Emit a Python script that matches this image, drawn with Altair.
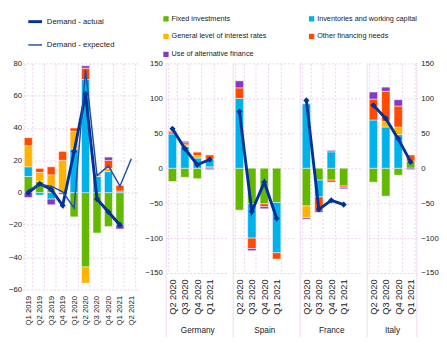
import altair as alt
import pandas as pd

FONT = "Liberation Sans Narrow, Liberation Sans, Arial, sans-serif"
GRID = "#ecd0ec"
SEP = "#efd8ef"
FS = 8

factors = ["Fixed investments", "Inventories and working capital",
           "General level of interest rates", "Other financing needs",
           "Use of alternative finance"]
factor_colors = ["#65B800", "#00B1EA", "#FFB400", "#FF4B00", "#8139C6"]
series = ["Demand - actual", "Demand - expected"]
series_colors = ["#003299", "#1f4ea8"]

# Left panel (euro area)
quarters_ea = ["Q1 2019", "Q2 2019", "Q3 2019", "Q4 2019", "Q1 2020",
               "Q2 2020", "Q3 2020", "Q4 2020", "Q1 2021", "Q2 2021"]
ea_fixed = [10, 7, 2, 0, -15, -46, -25, -21, -20, 0]
ea_inventories = [6, -1.5, -4, 0, 27, 70, 10, 13, 1, 0]
ea_interest = [13, 5.5, 9, 20, 11, -10, 1.5, 2, 0, 0]
ea_other = [5, 2.5, 5, 5.5, 2, 7, 0, 5, 3.5, 0]
ea_alternative = [-3, 0, -3.5, -1, 0, 1.5, 0, 2, -2.5, 0]
ea_actual = [0, 5.5, 2, -8, 25.5, 61, -4, -12, -20, None]
ea_expected = [1.5, 5, 4, 0.5, -9.5, 76, 10.5, 16.5, 4, 21]

# Right panel: four quarters per country, in the order of `countries`
countries = ["Germany", "Spain", "France", "Italy"]
quarters_c = ["Q2 2020", "Q3 2020", "Q4 2020", "Q1 2021"]
c_fixed = [-19, -13, -15, 2, -60, -51, -51, -49, -54, -17, -17, -25.5, -20, -40, -10, 10]
c_inventories = [49, 31, 14.5, 11, 100, -49, 0, -72, 92, -24, 23.5, 0, 69, 59, 48, 0]
c_interest = [0, 2.5, 3.5, 0, 0, 0, 0, 0, -17, 0, 0, 0, 0, 8, 11, 0]
c_other = [3, 3, 5, 6, 15, -15, -4, -9, 0, -19, -3, -2, 30, 43, 30, 9]
c_alternative = [1, 2, 0, -2, 10, -3, -3, 0, -2, -3, 2, -2, 10, 6, 9, -2]
c_actual = [56.5, 28, 5, 12.5, 81, -62, -20, -72, 97, -59, -46, -52, 90, 71, 42, 9]

# ---- build tables
ea_lists = [ea_fixed, ea_inventories, ea_interest, ea_other, ea_alternative]
rows = []
for k, (f, vals) in enumerate(zip(factors, ea_lists)):
    for q, v in zip(quarters_ea, vals):
        if v:
            rows.append({"quarter": q, "factor": f, "value": v, "order": k})
ea_bars = pd.DataFrame(rows)
rows = []
for s, vals in zip(series, [ea_actual, ea_expected]):
    for q, v in zip(quarters_ea, vals):
        if v is not None:
            rows.append({"quarter": q, "series": s, "value": v})
ea_lines = pd.DataFrame(rows)

c_lists = [c_fixed, c_inventories, c_interest, c_other, c_alternative]
c_bars, c_lines = {}, {}
for i, c in enumerate(countries):
    rows = []
    for k, (f, vals) in enumerate(zip(factors, c_lists)):
        for j, q in enumerate(quarters_c):
            v = vals[4 * i + j]
            if v:
                rows.append({"quarter": q, "factor": f, "value": v, "order": k})
    c_bars[c] = pd.DataFrame(rows)
    c_lines[c] = pd.DataFrame({"quarter": quarters_c,
                               "series": series[0],
                               "value": c_actual[4 * i:4 * i + 4]})

color_enc = alt.Color(
    "factor:N",
    scale=alt.Scale(domain=factors, range=factor_colors),
    legend=alt.Legend(title=None, orient="none", legendX=144, legendY=-50,
                      columns=2, direction="horizontal", symbolType="square",
                      symbolSize=30, symbolStrokeWidth=0, labelFontSize=7.5,
                      labelOffset=2, rowPadding=9.5, columnPadding=42, padding=0,
                      labelColor="#222222"),
)
stroke_scale = alt.Scale(domain=series, range=series_colors)
width_scale = alt.Scale(domain=series, range=[3, 1.5])
line_legend = alt.Legend(title=None, orient="none", legendX=4, legendY=-52,
                         symbolType="stroke", symbolSize=200, labelFontSize=FS,
                         labelOffset=3, rowPadding=10, padding=0,
                         labelColor="#222222")


def y_axis(**kw):
    base = dict(title=None, ticks=False, domain=False, gridColor=GRID,
                gridDash=[2, 2], labelFontSize=FS, labelColor="#222222")
    base.update(kw)
    return alt.Axis(**base)


def x_axis(title=None, fs=FS):
    kw = dict(labelAngle=270, labelPadding=6, ticks=False, domain=False,
              grid=True, tickBand="extent", gridColor=GRID, gridDash=[2, 2],
              labelFontSize=fs, labelColor="#222222", titleFontSize=8.5,
              titleFontWeight="normal", titleColor="#222222", titlePadding=12)
    kw["title"] = title if title else None
    return alt.Axis(**kw)


# ---- left chart
ysc_ea = alt.Scale(domain=[-60, 80], nice=False)
ya_ea = y_axis(values=list(range(-60, 81, 20)), labelPadding=1)
xs_ea = alt.X("quarter:N", scale=alt.Scale(domain=quarters_ea, paddingInner=0.3,
                                          paddingOuter=0.15), axis=x_axis())
ys_ea = alt.Y("value:Q", scale=ysc_ea, axis=ya_ea)

left_bars = alt.Chart(ea_bars).mark_bar(stroke="white", strokeWidth=0.5).encode(
    x=xs_ea, y=alt.Y("value:Q", stack="zero", scale=ysc_ea, axis=ya_ea),
    color=color_enc, order=alt.Order("order:Q"))
left_lines = alt.Chart(ea_lines).mark_line().encode(
    x=xs_ea, y=ys_ea,
    stroke=alt.Stroke("series:N", scale=stroke_scale, legend=line_legend),
    strokeWidth=alt.StrokeWidth("series:N", scale=width_scale, legend=line_legend))
left_pts = alt.Chart(ea_lines).transform_filter(
    alt.datum.series == series[0]).mark_point(
    shape="diamond", filled=True, size=40, color="#003299", opacity=1).encode(x=xs_ea, y=ys_ea)
left = alt.layer(left_bars, left_lines, left_pts).properties(width=118, height=233)


# ---- country charts
def country_chart(c, idx):
    last = idx == len(countries) - 1
    w = 51.2 if last else 64
    if last:
        xsc = alt.Scale(domain=quarters_c, paddingInner=0.33, paddingOuter=0.165, align=0.5)
    else:
        xsc = alt.Scale(domain=quarters_c, paddingInner=0.33, paddingOuter=0.665, align=0.124)
    if idx == 0:
        ya = y_axis(values=list(range(-150, 151, 50)), labelPadding=4)
    elif last:
        ya = y_axis(values=list(range(-150, 151, 50)), labelPadding=4, orient="right")
    else:
        ya = y_axis(values=list(range(-150, 151, 50)), labels=False)
    xe = alt.X("quarter:N", scale=xsc, axis=x_axis(c, fs=9.5))
    ysc = alt.Scale(domain=[-150, 150], nice=False)
    bars = alt.Chart(c_bars[c]).mark_bar(stroke="white", strokeWidth=0.5).encode(
        x=xe, y=alt.Y("value:Q", stack="zero", scale=ysc, axis=ya),
        color=color_enc, order=alt.Order("order:Q"))
    ln = alt.Chart(c_lines[c]).mark_line(color="#003299", strokeWidth=3).encode(
        x=xe, y=alt.Y("value:Q", scale=ysc, axis=ya))
    pts = alt.Chart(c_lines[c]).mark_point(shape="diamond", filled=True, size=40,
                                           color="#003299", opacity=1).encode(
        x=xe, y=alt.Y("value:Q", scale=ysc, axis=ya))
    sep = alt.Chart(pd.DataFrame({"edge": [0]})).mark_rule(color=SEP, strokeWidth=1).encode(
        x=alt.value(0), y=alt.value(0), y2=alt.value(282))
    layers = [bars, ln, pts, sep]
    if last:
        layers.append(alt.Chart(pd.DataFrame({"edge": [1]})).mark_rule(
            color=SEP, strokeWidth=1).encode(x=alt.value(w), y=alt.value(0), y2=alt.value(282)))
    return alt.layer(*layers).properties(width=w, height=216)


right = alt.hconcat(*[country_chart(c, i) for i, c in enumerate(countries)], spacing=0)

chart = alt.hconcat(left, right, spacing=7).properties(padding=0).configure(
    font=FONT).configure_view(strokeWidth=0)

chart.save("out.html", embed_options={"renderer": "svg", "actions": False})
